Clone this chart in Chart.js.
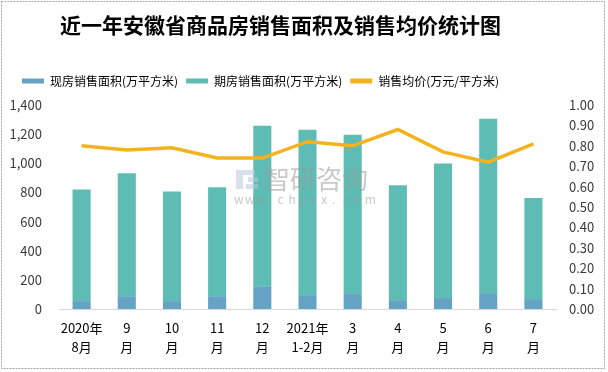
<!DOCTYPE html>
<html><head><meta charset="utf-8">
<script src="https://cdn.jsdelivr.net/npm/chart.js@4/dist/chart.umd.min.js"></script>
<style>html,body{margin:0;padding:0;background:#fff;}#wrap{width:608px;height:372px;position:relative;}</style>
</head><body><div id="wrap"><canvas id="c" width="608" height="372"></canvas></div>
<script>
const title = '近一年安徽省商品房销售面积及销售均价统计图';
const categories = [['2020年','8月'],['9','月'],['10','月'],['11','月'],['12','月'],['2021年','1-2月'],['3','月'],['4','月'],['5','月'],['6','月'],['7','月']];
const seriesNames = ['现房销售面积(万平方米)','期房销售面积(万平方米)','销售均价(万元/平方米)'];
const existingArea = [54, 88, 54, 88, 156, 95, 102, 61, 75, 109, 68];
const futuresArea = [766, 843, 753, 748, 1101, 1135, 1094, 789, 924, 1196, 693];
const avgPrice = [0.80, 0.78, 0.79, 0.74, 0.74, 0.82, 0.80, 0.88, 0.77, 0.72, 0.81];
const leftTicks = [0, 1400, 200];
const rightTicks = [0, 1, 0.1];

const FONT = '"Noto Sans CJK SC", "Noto Sans", sans-serif';

const deco = {
  id: 'deco',
  afterInit(chart) {
    const lg = chart.legend;
    if (lg) {
      const f = lg.fit.bind(lg);
      lg.fit = function () { f(); this.height += 8; };
    }
  },
  afterLayout(chart) {
    const lg = chart.legend;
    if (lg) { lg.left += 14; lg.right += 14; }
  },
  afterDatasetsDraw(chart) {
    const ctx = chart.ctx;
    ctx.save();
    ctx.globalAlpha = 0.55;
    ctx.fillStyle = '#b9c7dc';
    ctx.fillRect(236, 170, 7, 19);
    ctx.fillRect(243, 170, 12, 5);
    ctx.fillRect(248, 177, 10, 5);
    ctx.fillRect(246, 184, 12, 5);
    ctx.fillStyle = '#9a9a9a';
    ctx.font = '26px ' + FONT;
    ctx.textBaseline = 'middle';
    ctx.textAlign = 'left';
    ctx.fillText('智研咨询', 264, 179);
    ctx.font = '12px ' + FONT;
    const w = 'www.chyxx.com';
    for (let i = 0; i < w.length; i++) ctx.fillText(w[i], 234 + i * 10.9, 199);
    ctx.restore();
  },
  afterDraw(chart) {
    const ctx = chart.ctx;
    ctx.save();
    ctx.fillStyle = '#000';
    ctx.font = 'bold 21px ' + FONT;
    ctx.textBaseline = 'middle';
    ctx.textAlign = 'left';
    ctx.fillText(title, 60, 25);
    ctx.strokeStyle = '#a6a6a6';
    ctx.lineWidth = 1;
    ctx.setLineDash([2, 1]);
    ctx.strokeRect(1.5, 1.5, 603, 367);
    ctx.restore();
  }
};

new Chart(document.getElementById('c'), {
  data: {
    labels: categories,
    datasets: [
      { type: 'bar', label: seriesNames[0], data: existingArea, backgroundColor: '#64a3c4', yAxisID: 'y', barPercentage: 0.4, categoryPercentage: 1, order: 0 },
      { type: 'bar', label: seriesNames[1], data: futuresArea, backgroundColor: '#5dbdb4', yAxisID: 'y', barPercentage: 0.4, categoryPercentage: 1, order: 0 },
      { type: 'line', label: seriesNames[2], data: avgPrice, borderColor: '#f2b31e', backgroundColor: '#f2b31e', borderWidth: 3.5, pointRadius: 0, tension: 0, yAxisID: 'y1', order: -1 }
    ]
  },
  options: {
    responsive: false,
    animation: false,
    layout: { padding: { top: 67, left: 0, right: 0, bottom: 0 } },
    plugins: {
      tooltip: { enabled: false },
      title: { display: false },
      legend: {
        position: 'top', align: 'start',
        labels: {
          boxWidth: 22, boxHeight: 5, padding: 8, color: '#000',
          font: { family: FONT, size: 12 },
          sort: (a, b) => a.datasetIndex - b.datasetIndex,
          generateLabels(chart) {
            const items = Chart.defaults.plugins.legend.labels.generateLabels(chart);
            items.forEach(it => { const ds = chart.data.datasets[it.datasetIndex]; it.fillStyle = ds.type === 'line' ? ds.borderColor : ds.backgroundColor; it.lineWidth = 0; it.strokeStyle = 'rgba(0,0,0,0)'; });
            return items;
          }
        }
      }
    },
    scales: {
      x: {
        stacked: true,
        grid: { display: false, drawTicks: false },
        border: { color: '#d9d9d9' },
        ticks: { color: '#000', font: { family: FONT, size: 13, lineHeight: 1.45 }, padding: 10, maxRotation: 0, autoSkip: false },
        afterFit(s) { s.height = 63; }
      },
      y: {
        stacked: true, position: 'left', min: leftTicks[0], max: leftTicks[1],
        grid: { display: false, drawTicks: false }, border: { display: false },
        ticks: { stepSize: leftTicks[2], color: '#3a3a3a', font: { family: FONT, size: 13 }, padding: 17,
          callback: v => v.toLocaleString('en-US') },
        afterFit(s) { s.width = 59; }
      },
      y1: {
        position: 'right', min: rightTicks[0], max: rightTicks[1],
        grid: { display: false, drawTicks: false }, border: { display: false },
        ticks: { stepSize: rightTicks[2], color: '#3a3a3a', font: { family: FONT, size: 13 }, padding: 13,
          callback: v => v.toFixed(2) },
        afterFit(s) { s.width = 52; }
      }
    }
  },
  plugins: [deco]
});
</script></body></html>
